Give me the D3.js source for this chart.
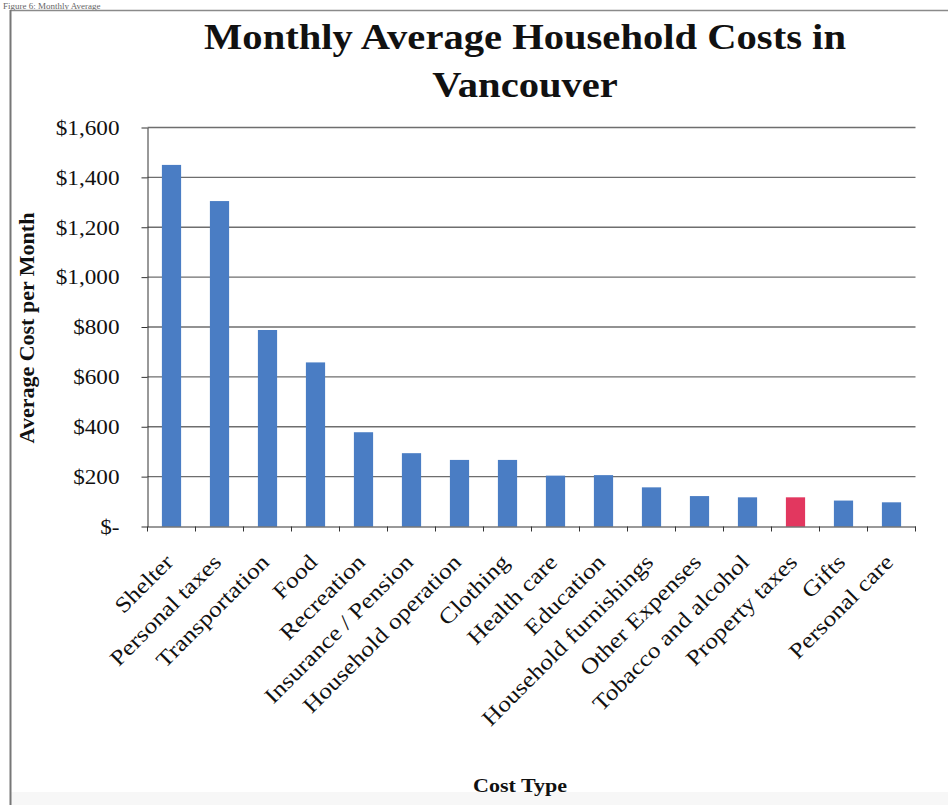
<!DOCTYPE html>
<html>
<head>
<meta charset="utf-8">
<script src="https://cdn.jsdelivr.net/npm/d3@7"></script>
<style>
  html, body { margin: 0; padding: 0; background: #fff; }
  svg { display: block; }
</style>
</head>
<body>
<script>
// ---- data ----
const categories = ["Shelter", "Personal taxes", "Transportation", "Food", "Recreation",
  "Insurance / Pension", "Household operation", "Clothing", "Health care", "Education",
  "Household furnishings", "Other Expenses", "Tobacco and alcohol", "Property taxes",
  "Gifts", "Personal care"];
const values = [1450, 1305, 788, 658, 378, 294, 267, 267, 204, 206, 157, 122, 117, 117, 104, 97];
const highlighted = ["Property taxes"];
const yTickValues = [0, 200, 400, 600, 800, 1000, 1200, 1400, 1600];
const yTickLabels = ["$-", "$200", "$400", "$600", "$800", "$1,000", "$1,200", "$1,400", "$1,600"];
const titleLines = ["Monthly Average Household Costs in", "Vancouver"];
const yTitle = "Average Cost per Month";
const xTitle = "Cost Type";
const caption = "Figure 6: Monthly Average";

(function () {
// ---- layout ----
const W = 948, H = 805;
const pLeft = 147.5, pRight = 915.5, pTop = 127.5, pBottom = 526.5;
const serif = "'Liberation Serif', 'Times New Roman', serif";
const stretch = 1.16;

const svg = d3.select("body").append("svg").attr("width", W).attr("height", H);

// frame
svg.append("rect").attr("x", 0).attr("y", 0).attr("width", W).attr("height", H).attr("fill", "#fff");
svg.append("rect").attr("x", 11).attr("y", 792).attr("width", W - 11).attr("height", 13).attr("fill", "#f7f7f7");
svg.append("text").attr("x", 3).attr("y", 8.5).attr("font-family", serif).attr("font-size", 9)
  .attr("fill", "#666").text(caption);
svg.append("line").attr("x1", 10).attr("x2", W).attr("y1", 10.5).attr("y2", 10.5)
  .attr("stroke", "#8a8a8a").attr("stroke-width", 1.5);
svg.append("line").attr("x1", 10.5).attr("x2", 10.5).attr("y1", 10).attr("y2", H)
  .attr("stroke", "#777").attr("stroke-width", 2);

// scales
const x = d3.scaleBand().domain(categories).range([pLeft, pRight]).paddingInner(0.6).paddingOuter(0.3);
const y = d3.scaleLinear().domain([0, 1600]).range([pBottom, pTop]);

// gridlines
svg.append("g").selectAll("line").data(yTickValues.filter(v => v > 0)).join("line")
  .attr("x1", pLeft).attr("x2", pRight)
  .attr("y1", d => y(d)).attr("y2", d => y(d))
  .attr("stroke", "#6e6e6e").attr("stroke-width", 1.3);

// bars
svg.append("g").selectAll("rect").data(categories).join("rect")
  .attr("x", d => x(d))
  .attr("width", x.bandwidth())
  .attr("y", (d, i) => y(values[i]))
  .attr("height", (d, i) => y(0) - y(values[i]))
  .attr("fill", d => highlighted.includes(d) ? "#e2375f" : "#4a7dc4");

// y axis
const yAxis = svg.append("g").attr("transform", `translate(${pLeft},0)`)
  .call(d3.axisLeft(y).tickValues(yTickValues).tickFormat((d, i) => yTickLabels[i]).tickSize(6).tickSizeOuter(0));
yAxis.select(".domain").attr("stroke", "#333");
yAxis.selectAll(".tick line").attr("stroke", "#333");
yAxis.selectAll(".tick text")
  .attr("x", 0).attr("dy", "0.34em")
  .attr("transform", `translate(-28,0) scale(${stretch},1)`)
  .attr("font-family", serif).attr("font-size", 20).attr("fill", "#111");

// x axis
const xAxis = svg.append("g").attr("transform", `translate(0,${pBottom})`)
  .call(d3.axisBottom(x).tickSize(0).tickSizeOuter(0));
xAxis.select(".domain").attr("stroke", "#333");
xAxis.selectAll(".tick text")
  .attr("x", 0).attr("y", 0).attr("dy", 0)
  .attr("text-anchor", "end")
  .attr("transform", `translate(3,37) rotate(-45) scale(${stretch},1)`)
  .attr("font-family", serif).attr("font-size", 22).attr("fill", "#111");
// boundary tick marks
const half = (x.step() - x.bandwidth()) / 2;
const bounds = categories.map(c => x(c) - half).concat([x(categories[categories.length - 1]) + x.bandwidth() + half]);
xAxis.append("g").selectAll("line").data(bounds).join("line")
  .attr("x1", d => d).attr("x2", d => d).attr("y1", 0).attr("y2", 5)
  .attr("stroke", "#333");

// titles
svg.append("g").selectAll("text").data(titleLines).join("text")
  .attr("text-anchor", "middle")
  .attr("transform", (d, i) => `translate(525,${49 + i * 48}) scale(${stretch},1)`)
  .attr("font-family", serif).attr("font-weight", "bold").attr("font-size", 35).attr("fill", "#111")
  .text(d => d);

svg.append("text")
  .attr("text-anchor", "middle")
  .attr("transform", `translate(34,328) rotate(-90)`)
  .attr("font-family", serif).attr("font-weight", "bold").attr("font-size", 22).attr("fill", "#111")
  .text(yTitle);

svg.append("text")
  .attr("text-anchor", "middle")
  .attr("transform", `translate(520,792) scale(${stretch},1)`)
  .attr("font-family", serif).attr("font-weight", "bold").attr("font-size", 19).attr("fill", "#111")
  .text(xTitle);
})();
</script>
</body>
</html>
